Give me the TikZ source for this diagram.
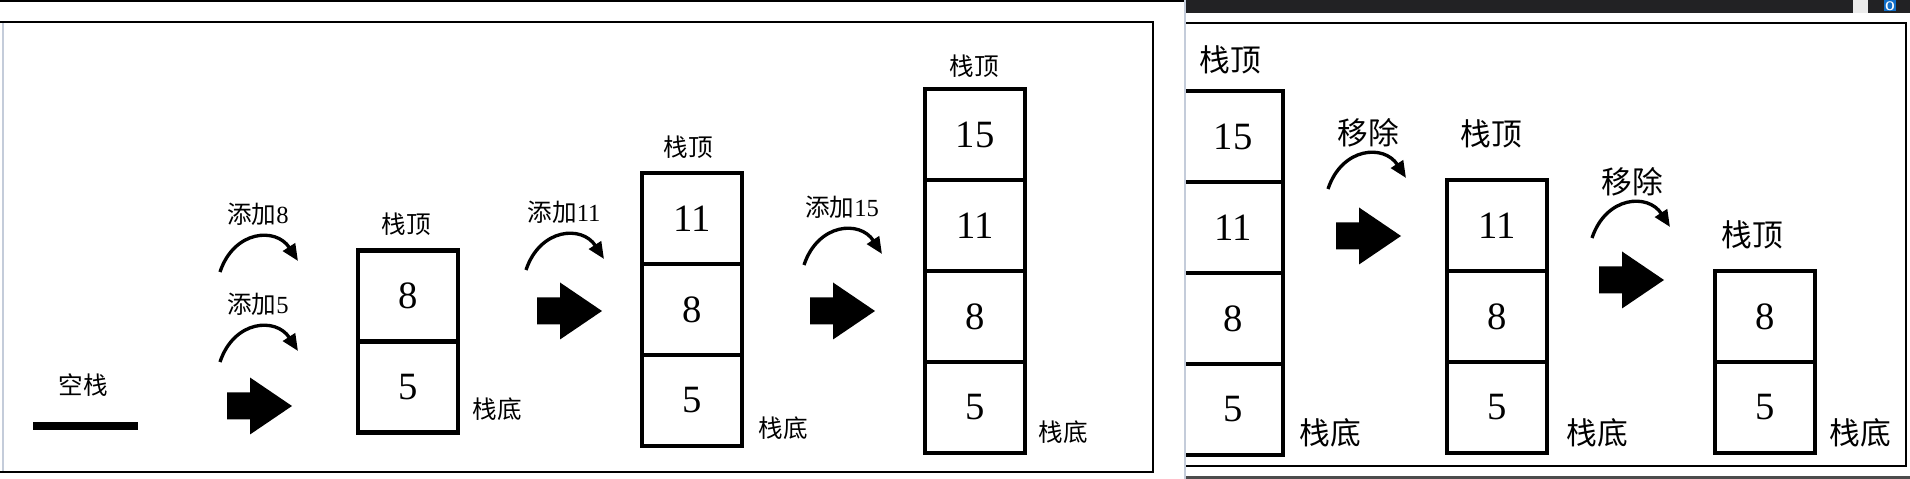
\documentclass[tikz,border=0pt]{standalone}
\usepackage{fontspec}
\setmainfont{Liberation Serif}
\newfontfamily\cjk{Noto Sans CJK SC}
\usetikzlibrary{arrows.meta,positioning}
\newcommand{\cellfont}{\fontsize{22}{24}\selectfont}
\newcommand{\smallzh}{\fontsize{14}{16}\selectfont}
\newcommand{\bigzh}{\fontsize{17.5}{19}\selectfont}
\definecolor{barblack}{RGB}{34,34,36}
\definecolor{edgegrey}{RGB}{196,204,218}
\definecolor{iconblue}{RGB}{16,110,200}
\tikzset{
  cell/.style={draw,line width=2.4pt,minimum width=2cm,minimum height=1.82cm,
    inner sep=0pt,outer sep=0pt,font=\cellfont},
  bendline/.style={line width=1.9pt,-{Triangle[length=9.5pt,width=8pt]}},
  zhs/.style={inner sep=0pt,font=\cjk\smallzh},
  zhb/.style={inner sep=0pt,font=\cjk\bigzh},
  pics/fatarrow/.style={code={
    \fill (0,-13.5) -- (23,-13.5) -- (23,-28.5) -- (65,0) -- (23,28.5) -- (23,13.5) -- (0,13.5) -- cycle;}}
}

\begin{document}
\begin{tikzpicture}[x=0.02cm,y=0.02cm]
\useasboundingbox (0,0) rectangle (1910,479);
% ---------- left shot: pushing ----------
\begin{scope}
\draw[line width=1.2pt] (0,478) -- (1185,478);
\draw[edgegrey,line width=0.6pt] (3,457) -- (3,7);
\draw[line width=1.6pt] (0,457) -- (1153,457) -- (1153,7) -- (0,7);
% the empty stack
\node[zhs] (empty) at (83,94) {空栈};
\draw[line width=4pt] (33,53) -- (138,53);
% bent arrows and captions
\foreach \n/\x/\y/\lb in {a/220/117/{添加{\rmfamily 5}}, b/220/207/{添加{\rmfamily 8}},
                          c/526/209/{添加{\rmfamily 11}}, d/804/214/{添加{\rmfamily 15}}}{
  \coordinate (bend\n) at (\x,\y);
  \coordinate (bend\n e) at (\x+78,\y+11);
  \draw[bendline] (bend\n) .. controls +(14,42) and +(-22,34) .. (bend\n e);
  \node[zhs] (cap\n) at (\x+38,\y+58) {\lb};
}
\foreach \n/\x/\y in {1/227/73, 2/537/168, 3/810/168}
  \pic (push\n) at (\x,\y) {fatarrow};
% stacks
\node[cell] (s1a) at (408,92) {5};
\node[cell,above=0pt of s1a] (s1b) {8};
\node[cell] (s2a) at (692,78.5) {5};
\node[cell,above=0pt of s2a] (s2b) {8};
\node[cell,above=0pt of s2b] (s2c) {11};
\node[cell] (s3a) at (975,71.5) {5};
\node[cell,above=0pt of s3a] (s3b) {8};
\node[cell,above=0pt of s3b] (s3c) {11};
\node[cell,above=0pt of s3c] (s3d) {15};
\foreach \n/\tx/\ty/\bx/\by in {1/406/255/497/70, 2/688/332/783/51, 3/974/413/1063/47}{
  \node[zhs] (top\n) at (\tx,\ty) {栈顶};
  \node[zhs] (bot\n) at (\bx,\by) {栈底};
}
\end{scope}
% ---------- right shot: popping ----------
\begin{scope}
\clip (1185,0) rectangle (1910,479);
\fill[barblack] (1185,466) rectangle (1910,479);
\fill[black!8] (1853,466) rectangle (1868,479);
\node[fill=iconblue,text=white,font=\sffamily\bfseries\fontsize{7}{7}\selectfont,
  inner sep=0.5pt,minimum size=0.22cm] (icon) at (1890,473) {O};
\draw[line width=1.6pt] (1185,456) -- (1906,456) -- (1906,13) -- (1185,13);
\draw[black!70,line width=1.5pt] (1185,1.5) -- (1910,1.5);
\node[cell] (s4a) at (1233,69.5) {5};
\node[cell,above=0pt of s4a] (s4b) {8};
\node[cell,above=0pt of s4b] (s4c) {11};
\node[cell,above=0pt of s4c] (s4d) {15};
\node[cell] (s5a) at (1497,71.5) {5};
\node[cell,above=0pt of s5a] (s5b) {8};
\node[cell,above=0pt of s5b] (s5c) {11};
\node[cell] (s6a) at (1765,71.5) {5};
\node[cell,above=0pt of s6a] (s6b) {8};
\foreach \n/\x/\y in {e/1328/290, f/1592/241}{
  \coordinate (bend\n) at (\x,\y);
  \coordinate (bend\n e) at (\x+78,\y+11);
  \draw[bendline] (bend\n) .. controls +(14,42) and +(-22,34) .. (bend\n e);
  \node[zhb] (cap\n) at (\x+40,\y+56) {移除};
}
\foreach \n/\x/\y in {4/1336/243, 5/1599/199}
  \pic (pop\n) at (\x,\y) {fatarrow};
\foreach \n/\tx/\ty/\bx/\by in {4/1230/419/1330/46, 5/1491/345/1597/46, 6/1752/244/1860/46}{
  \node[zhb] (top\n) at (\tx,\ty) {栈顶};
  \node[zhb] (bot\n) at (\bx,\by) {栈底};
}
\end{scope}
\draw[edgegrey,line width=1pt] (1185,0) -- (1185,479);
\end{tikzpicture}
\end{document}
